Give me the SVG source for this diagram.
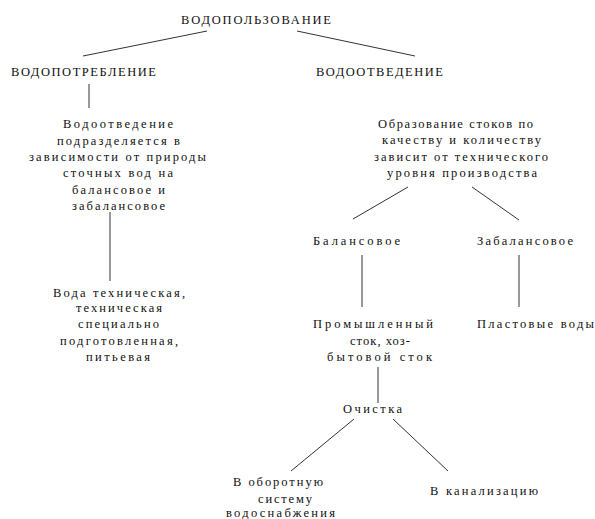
<svg xmlns="http://www.w3.org/2000/svg" width="595" height="519" viewBox="0 0 595 519">
<style>
text{font-family:"Liberation Serif","Times New Roman",serif;font-size:12.5px;fill:#111}
.c{stroke:#333;stroke-width:1;fill:none}
</style>
<rect width="595" height="519" fill="#fff"/>
<g id="connectors">
<line class="c" x1="207" y1="31" x2="83" y2="56"/>
<line class="c" x1="297" y1="31" x2="415" y2="56"/>
<line class="c" x1="89" y1="84" x2="89" y2="108"/>
<line class="c" x1="110" y1="212" x2="110" y2="281"/>
<line class="c" x1="408" y1="187" x2="353" y2="219"/>
<line class="c" x1="472" y1="187" x2="519" y2="220"/>
<line class="c" x1="362" y1="255" x2="362" y2="307"/>
<line class="c" x1="519" y1="255" x2="519" y2="307"/>
<line class="c" x1="378" y1="367" x2="378" y2="403"/>
<line class="c" x1="354" y1="419" x2="291" y2="471"/>
<line class="c" x1="393" y1="419" x2="448" y2="471"/>
</g>
<g id="n-vodopolzovanie"><text x="181" y="24" textLength="150" lengthAdjust="spacing">ВОДОПОЛЬЗОВАНИЕ</text></g>
<g id="n-vodopotreblenie"><text x="11" y="76" textLength="145" lengthAdjust="spacing">ВОДОПОТРЕБЛЕНИЕ</text></g>
<g id="n-vodootvedenie"><text x="316" y="76" textLength="127" lengthAdjust="spacing">ВОДООТВЕДЕНИЕ</text></g>
<g id="n-left-desc">
<text x="63" y="128" textLength="110" lengthAdjust="spacing">Водоотведение</text>
<text x="57" y="145" textLength="123" lengthAdjust="spacing">подразделяется в</text>
<text x="29" y="161" textLength="177" lengthAdjust="spacing">зависимости от природы</text>
<text x="63" y="177" textLength="110" lengthAdjust="spacing">сточных вод на</text>
<text x="72" y="194" textLength="93" lengthAdjust="spacing">балансовое и</text>
<text x="72" y="210" textLength="93" lengthAdjust="spacing">забалансовое</text>
</g>
<g id="n-voda">
<text x="53" y="297" textLength="132" lengthAdjust="spacing">Вода техническая,</text>
<text x="76" y="312" textLength="86" lengthAdjust="spacing">техническая</text>
<text x="78" y="328" textLength="81" lengthAdjust="spacing">специально</text>
<text x="60" y="345" textLength="118" lengthAdjust="spacing">подготовленная,</text>
<text x="86" y="361" textLength="64" lengthAdjust="spacing">питьевая</text>
</g>
<g id="n-right-desc">
<text x="378" y="128" textLength="155" lengthAdjust="spacing">Образование стоков по</text>
<text x="382" y="144" textLength="159" lengthAdjust="spacing">качеству и количеству</text>
<text x="374" y="161" textLength="174" lengthAdjust="spacing">зависит от технического</text>
<text x="387" y="177" textLength="150" lengthAdjust="spacing">уровня производства</text>
</g>
<g id="n-balansovoe"><text x="313" y="245" textLength="87" lengthAdjust="spacing">Балансовое</text></g>
<g id="n-zabalansovoe"><text x="477" y="245" textLength="96" lengthAdjust="spacing">Забалансовое</text></g>
<g id="n-stok">
<text x="313" y="328" textLength="120" lengthAdjust="spacing">Промышленный</text>
<text x="350" y="345" textLength="60" lengthAdjust="spacing">сток, хоз-</text>
<text x="327" y="361" textLength="105" lengthAdjust="spacing">бытовой сток</text>
</g>
<g id="n-plastovye"><text x="477" y="328" textLength="117" lengthAdjust="spacing">Пластовые воды</text></g>
<g id="n-ochistka"><text x="343" y="413" textLength="59" lengthAdjust="spacing">Очистка</text></g>
<g id="n-oborot">
<text x="233" y="486" textLength="90" lengthAdjust="spacing">В оборотную</text>
<text x="258" y="503" textLength="54" lengthAdjust="spacing">систему</text>
<text x="226" y="517" textLength="109" lengthAdjust="spacing">водоснабжения</text>
</g>
<g id="n-kanal"><text x="430" y="495" textLength="108" lengthAdjust="spacing">В канализацию</text></g>
</svg>
